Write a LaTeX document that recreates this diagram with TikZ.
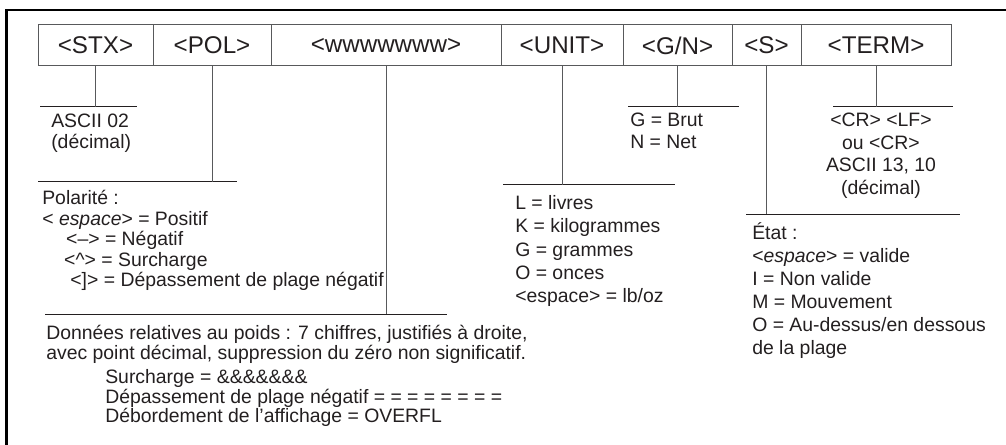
\documentclass[tikz,border=0pt]{standalone}
\usepackage{fontspec}
\setmainfont{Liberation Sans}
\usetikzlibrary{positioning}
\definecolor{ink}{HTML}{231F20}
\definecolor{line}{HTML}{58595B}
\begin{document}
\begin{tikzpicture}[
  cell/.style={draw=line, line width=0.7pt, minimum height=1.025cm, inner sep=0pt, outer sep=0pt, font=\fontsize{17.2}{18}\selectfont, text=ink},
  leader/.style={draw=line, line width=0.7pt},
  rule/.style={draw=ink, line width=0.7pt},
  note/.style={anchor=north west, align=left, inner sep=0pt, text=ink},
]
\useasboundingbox (0,0) rectangle (25.15,11.125);
\draw[line width=1.9pt] (0.1625,0) -- (0.1625,10.875) -- (25.15,10.875);

\node[cell, minimum width=2.875cm, anchor=west] (stx) at (0.95,9.9875) {<STX>};
\node[cell, minimum width=2.95cm, right=0pt of stx] (pol) {<POL>};
\node[cell, minimum width=5.75cm, right=0pt of pol] (wt) {<wwwwwww>};
\node[cell, minimum width=3.05cm, right=0pt of wt] (unit) {<UNIT>};
\node[cell, minimum width=2.725cm, right=0pt of unit] (gn) {<G/N>};
\node[cell, minimum width=1.725cm, right=0pt of gn] (stat) {<S>};
\node[cell, minimum width=3.75cm, right=0pt of stat] (term) {<TERM>};

\coordinate (stxL) at (1.0,8.45);
\coordinate (stxR) at (3.425,8.45);
\coordinate (polL) at (0.95,6.575);
\coordinate (polR) at (5.925,6.575);
\coordinate (wtL) at (1.125,3.275);
\coordinate (wtR) at (11.175,3.275);
\coordinate (unitL) at (12.575,6.5);
\coordinate (unitR) at (16.875,6.5);
\coordinate (gnL) at (15.7,8.45);
\coordinate (gnR) at (18.475,8.45);
\coordinate (statL) at (18.65,5.775);
\coordinate (statR) at (24.0,5.775);
\coordinate (termL) at (20.825,8.45);
\coordinate (termR) at (23.825,8.45);

\draw[rule] (stxL) -- (stxR);
\draw[rule] (polL) -- (polR);
\draw[rule] (wtL) -- (wtR);
\draw[rule] (unitL) -- (unitR);
\draw[rule] (gnL) -- (gnR);
\draw[rule] (statL) -- (statR);
\draw[rule] (termL) -- (termR);

\draw[leader] (stx.south) -- (stx.south |- stxL);
\draw[leader] (pol.south) -- (pol.south |- polL);
\draw[leader] (wt.south) -- (wt.south |- wtL);
\draw[leader] (unit.south) -- (unit.south |- unitL);
\draw[leader] (gn.south) -- (gn.south |- gnL);
\draw[leader] (stat.south) -- (stat.south |- statL);
\draw[leader] (term.south) -- (term.south |- termL);

\node[note, font=\fontsize{13.8}{14.9}\selectfont] (stxnote) at (1.275,8.28) {ASCII 02\\(décimal)};
\node[note, font=\fontsize{13.8}{14.6}\selectfont] (polnote) at (1.05,6.375)
{Polarité :\\< \textit{espace}> = Positif\\\hspace*{17pt}<–> = Négatif\\\hspace*{15.6pt}<\textasciicircum> = Surcharge\\\hspace*{20pt}<]> = Dépassement de plage négatif};
\node[note, font=\fontsize{13.8}{14.2}\selectfont] (wtnote) at (1.15,3.0)
{Données relatives au poids : 7 chiffres, justifiés à droite,\\avec point décimal, suppression du zéro non significatif.};
\node[note, font=\fontsize{13.8}{12.4}\selectfont] (wtcodes) at (2.625,1.9)
{Surcharge = \&\&\&\&\&\&\&\\Dépassement de plage négatif = = = = = = = =\\Débordement de l’affichage = OVERFL};
\node[note, font=\fontsize{13.8}{16.6}\selectfont] (unitnote) at (12.875,6.25)
{L = livres\\K = kilogrammes\\G = grammes\\O = onces\\<espace> = lb/oz};
\node[note, font=\fontsize{13.8}{15.6}\selectfont] (gnnote) at (15.75,8.3) {G = Brut\\N = Net};
\node[note, anchor=north, align=center, font=\fontsize{13.8}{16}\selectfont] (termnote) at (22.025,8.3)
{<CR> <LF>\\ou <CR>\\ASCII 13, 10\\(décimal)};
\node[note, font=\fontsize{13.8}{16.4}\selectfont] (statnote) at (18.8,5.575)
{État :\\<\textit{espace}> = valide\\I = Non valide\\M = Mouvement\\O = Au-dessus/en dessous\\de la plage};
\end{tikzpicture}
\end{document}
